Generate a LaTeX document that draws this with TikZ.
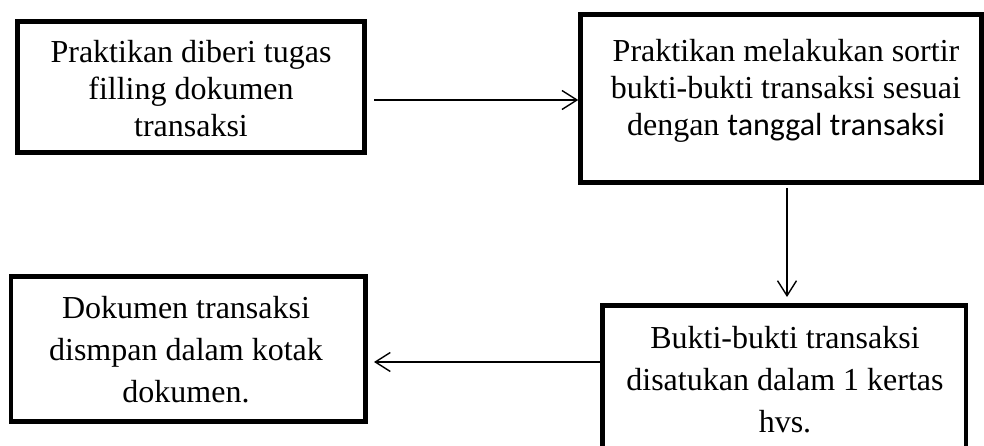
\documentclass[tikz,border=0pt]{standalone}
\usepackage{fontspec}
\setmainfont{Liberation Serif}
\newfontfamily\calibri{Carlito}
\usetikzlibrary{arrows.meta}
\begin{document}
\begin{tikzpicture}[x=1pt,y=-1pt,
  box/.style={draw=black,line width=4.5pt,rectangle,inner sep=0pt},
  txt/.style={align=center,inner sep=0pt,font=\fontsize{32}{37}\selectfont},
  txtb/.style={align=center,inner sep=0pt,font=\fontsize{32}{42}\selectfont},
  arr/.style={line width=1.4pt,-{Straight Barb[length=15pt,width=19pt,line width=1.4pt]}}]
\clip (0,0) rectangle (984,446);
\fill[white] (0,0) rectangle (984,446);
% boxes
\node[box,minimum width=347pt,minimum height=131pt] (b1) at (191,87) {};
\node[box,minimum width=401pt,minimum height=168pt] (b2) at (781,98.5) {};
\node[box,minimum width=363.5pt,minimum height=200pt] (b3) at (784,405.5) {};
\node[box,minimum width=354.5pt,minimum height=145pt] (b4) at (188,349) {};
% texts (base anchor = baseline of last line)
\node[txt,anchor=base] (t1) at (191,137) {Praktikan diberi tugas\\filling dokumen\\transaksi};
\node[txt,anchor=base] (t2) at (786,136) {Praktikan melakukan sortir\\bukti-bukti transaksi sesuai\\dengan {\calibri tanggal transaksi}};
\node[txtb,anchor=base] (t3) at (785,432) {Bukti-bukti transaksi\\disatukan dalam 1 kertas\\hvs.};
\node[txtb,anchor=base] (t4) at (186,402) {Dokumen transaksi\\dismpan dalam kotak\\dokumen.};
% connectors
\coordinate (a1s) at (374,100);
\coordinate (a2s) at (787,188);
\coordinate (a2e) at (787,297);
\coordinate (a3e) at (374,362);
\draw[arr] (a1s) -- (a1s -| b2.west);
\draw[arr] (a2s) -- (a2e);
\draw[arr] (b3.west |- a3e) -- (a3e);
\end{tikzpicture}
\end{document}
